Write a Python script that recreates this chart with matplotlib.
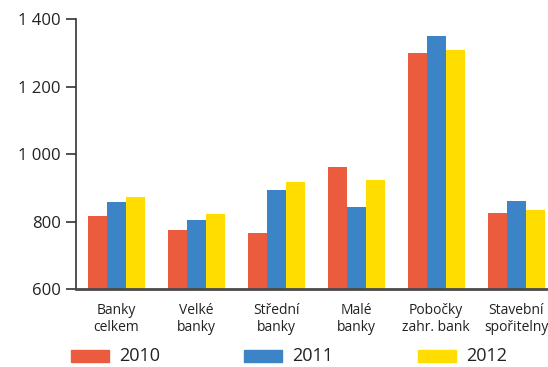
import matplotlib.pyplot as plt
import matplotlib.patches as mpatches
import numpy as np
from matplotlib.ticker import FuncFormatter

plt.rcParams["font.family"] = ["Open Sans", "DejaVu Sans"]

categories = ["Banky\ncelkem", "Velké\nbanky", "Střední\nbanky", "Malé\nbanky",
              "Pobočky\nzahr. bank", "Stavební\nspořitelny"]
years = ["2010", "2011", "2012"]
values_2010 = [816, 775, 766, 961, 1299, 825]
values_2011 = [858, 804, 893, 843, 1350, 861]
values_2012 = [873, 822, 917, 923, 1308, 834]
colors = ["#EB5C3F", "#3D84C6", "#FFDD00"]

fig = plt.figure(figsize=(5.48, 3.67), dpi=100)
ax = fig.add_axes([0.1387, 0.2125, 0.8613, 0.7355])

x = np.arange(len(categories))
w = 0.2375
for i, (vals, col) in enumerate(zip([values_2010, values_2011, values_2012], colors)):
    ax.bar(x + (i - 1) * w, np.array(vals) - 600, width=w, bottom=600,
           color=col, edgecolor="none", zorder=2)

ax.set_xlim(-0.5, 5.4)
ax.set_ylim(600, 1400)
ax.set_yticks([600, 800, 1000, 1200, 1400])
ax.yaxis.set_major_formatter(FuncFormatter(lambda v, p: f"{int(v):,}".replace(",", " ")))
ax.set_xticks(x)
ax.set_xticklabels(categories, fontsize=10, color="#222222", linespacing=1.15)
ax.tick_params(axis="x", length=0, pad=10)
ax.tick_params(axis="y", direction="out", length=7, width=1.2, color="#333333",
               labelsize=12, labelcolor="#222222", pad=4)

for s in ["top", "right"]:
    ax.spines[s].set_visible(False)
ax.spines["left"].set_color("#333333")
ax.spines["left"].set_linewidth(1.2)
ax.spines["bottom"].set_color("#4a4a4a")
ax.spines["bottom"].set_linewidth(2)
ax.spines["bottom"].set_zorder(3)

# legend row along the bottom
leg_x = [0.1296, 0.445, 0.763]
for col, yr, lx in zip(colors, years, leg_x):
    fig.patches.append(mpatches.Rectangle((lx, 0.0136), 0.069, 0.0327,
                                          transform=fig.transFigure, color=col, figure=fig))
    fig.text(lx + 0.0876, 0.0295, yr, fontsize=13, color="#222222", va="center")

fig.savefig("out.png", dpi=100)
